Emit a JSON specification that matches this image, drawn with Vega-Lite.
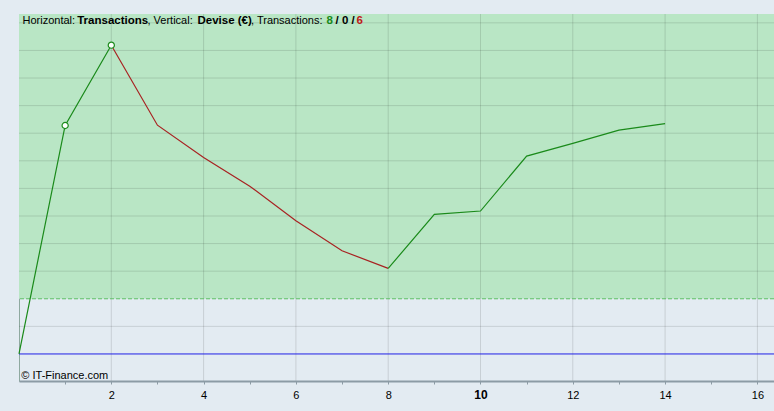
{
  "$schema": "https://vega.github.io/schema/vega-lite/v6.json",
  "width": 755,
  "height": 367,
  "autosize": {"type": "none"},
  "padding": {"left": 19, "top": 14, "right": 0, "bottom": 30},
  "background": "#e3ebf2",
  "config": {
    "view": {"stroke": "#8fa9a0", "strokeWidth": 1, "fill": "#e3ebf2"},
    "font": "Liberation Sans"
  },
  "datasets": {
    "pts": [
      {"x": 0, "y": 0, "s": "a", "c": "up"},
      {"x": 1, "y": 8.28, "s": "a", "c": "up"},
      {"x": 2, "y": 11.19, "s": "a", "c": "up"},
      {"x": 2, "y": 11.19, "s": "b", "c": "down"},
      {"x": 3, "y": 8.29, "s": "b", "c": "down"},
      {"x": 4, "y": 7.12, "s": "b", "c": "down"},
      {"x": 5, "y": 6.08, "s": "b", "c": "down"},
      {"x": 6, "y": 4.83, "s": "b", "c": "down"},
      {"x": 7, "y": 3.74, "s": "b", "c": "down"},
      {"x": 8, "y": 3.1, "s": "b", "c": "down"},
      {"x": 8, "y": 3.1, "s": "c", "c": "up"},
      {"x": 9, "y": 5.06, "s": "c", "c": "up"},
      {"x": 10, "y": 5.18, "s": "c", "c": "up"},
      {"x": 11, "y": 7.17, "s": "c", "c": "up"},
      {"x": 12, "y": 7.63, "s": "c", "c": "up"},
      {"x": 13, "y": 8.11, "s": "c", "c": "up"},
      {"x": 14, "y": 8.35, "s": "c", "c": "up"}
    ],
    "marks": [
      {"x": 1, "y": 8.28},
      {"x": 2, "y": 11.19}
    ],
    "zone": [{"x": 0, "x2": 16.36, "y": 2, "y2": 12.32}],
    "vgrid": [{"x": 2}, {"x": 4}, {"x": 6}, {"x": 8}, {"x": 10}, {"x": 12}, {"x": 14}, {"x": 16}],
    "hgrid": [{"y": 1}, {"y": 3}, {"y": 4}, {"y": 5}, {"y": 6}, {"y": 7}, {"y": 8}, {"y": 9}, {"y": 10}, {"y": 11}, {"y": 12}],
    "dash": [{"y": 2}],
    "zero": [{"y": 0}],
    "hdrNormal": [
      {"x": 0.076, "y": 12.07, "t": "Horizontal:"},
      {"x": 2.784, "y": 12.07, "t": ", Vertical:"},
      {"x": 5.027, "y": 12.07, "t": ", Transactions:"}
    ],
    "hdrBold": [
      {"x": 1.261, "y": 12.07, "t": "Transactions", "k": "black"},
      {"x": 3.868, "y": 12.07, "t": "Devise (€)", "k": "black"},
      {"x": 6.663, "y": 12.07, "t": "8", "k": "green"},
      {"x": 6.86, "y": 12.07, "t": "/ 0 /", "k": "black"},
      {"x": 7.313, "y": 12.07, "t": "6", "k": "red"}
    ],
    "copy": [{"x": 0.05, "y": -0.8, "t": "© IT-Finance.com"}]
  },
  "layer": [
    {
      "data": {"name": "zone"},
      "mark": {"type": "rect", "color": "#b9e6c5"},
      "encoding": {
        "x": {"field": "x", "type": "quantitative", "scale": {"domain": [0, 16.36], "nice": false, "zero": false},
          "axis": {
            "title": null,
            "values": [1, 2, 3, 4, 5, 6, 7, 8, 9, 10, 11, 12, 13, 14, 15, 16],
            "labelExpr": "datum.value % 2 == 0 ? datum.label : ''",
            "labelOverlap": false,
            "grid": false,
            "tickSize": 3,
            "tickColor": "#8c9ba5",
            "domainColor": "#8c9ba5",
            "domainWidth": 2,
            "labelFontSize": {"condition": {"test": "datum.value == 10", "value": 12}, "value": 11},
            "labelFontWeight": {"condition": {"test": "datum.value == 10", "value": "bold"}, "value": "normal"},
            "labelColor": "#000000",
            "labelPadding": 5,
            "labelFlush": false,
            "zindex": 1
          }
        },
        "x2": {"field": "x2"},
        "y": {"field": "y", "type": "quantitative", "scale": {"domain": [-0.98, 12.32], "nice": false, "zero": false}, "axis": null},
        "y2": {"field": "y2"}
      }
    },
    {
      "data": {"name": "vgrid"},
      "mark": {"type": "rule", "color": "#000000", "opacity": 0.12, "strokeWidth": 1},
      "encoding": {"x": {"field": "x", "type": "quantitative"}}
    },
    {
      "data": {"name": "hgrid"},
      "mark": {"type": "rule", "color": "#000000", "opacity": 0.12, "strokeWidth": 1},
      "encoding": {"y": {"field": "y", "type": "quantitative"}}
    },
    {
      "data": {"name": "dash"},
      "mark": {"type": "rule", "color": "#5fbf66", "strokeDash": [4, 2], "strokeWidth": 1},
      "encoding": {"y": {"field": "y", "type": "quantitative"}}
    },
    {
      "data": {"name": "zero"},
      "mark": {"type": "rule", "color": "#1f1fe6", "strokeWidth": 1},
      "encoding": {"y": {"field": "y", "type": "quantitative"}}
    },
    {
      "data": {"name": "pts"},
      "mark": {"type": "line", "strokeWidth": 1.2},
      "encoding": {
        "x": {"field": "x", "type": "quantitative"},
        "y": {"field": "y", "type": "quantitative"},
        "detail": {"field": "s"},
        "color": {"field": "c", "type": "nominal", "scale": {"domain": ["up", "down"], "range": ["#1a8a1a", "#a82222"]}, "legend": null}
      }
    },
    {
      "data": {"name": "marks"},
      "mark": {"type": "point", "shape": "circle", "filled": true, "fill": "#ffffff", "stroke": "#1a8a1a", "strokeWidth": 1.2, "size": 38, "opacity": 1},
      "encoding": {
        "x": {"field": "x", "type": "quantitative"},
        "y": {"field": "y", "type": "quantitative"}
      }
    },
    {
      "data": {"name": "hdrNormal"},
      "mark": {"type": "text", "align": "left", "baseline": "middle", "fontSize": 11, "color": "#000000"},
      "encoding": {
        "x": {"field": "x", "type": "quantitative"},
        "y": {"field": "y", "type": "quantitative"},
        "text": {"field": "t"}
      }
    },
    {
      "data": {"name": "hdrBold"},
      "mark": {"type": "text", "align": "left", "baseline": "middle", "fontSize": 11.5, "fontWeight": "bold"},
      "encoding": {
        "x": {"field": "x", "type": "quantitative"},
        "y": {"field": "y", "type": "quantitative"},
        "text": {"field": "t"},
        "color": {"field": "k", "type": "nominal", "scale": {"domain": ["black", "green", "red"], "range": ["#000000", "#1a8a1a", "#c01818"]}, "legend": null}
      }
    },
    {
      "data": {"name": "copy"},
      "mark": {"type": "text", "align": "left", "baseline": "middle", "fontSize": 11, "color": "#000000"},
      "encoding": {
        "x": {"field": "x", "type": "quantitative"},
        "y": {"field": "y", "type": "quantitative"},
        "text": {"field": "t"}
      }
    }
  ],
  "resolve": {"scale": {"color": "independent"}}
}
